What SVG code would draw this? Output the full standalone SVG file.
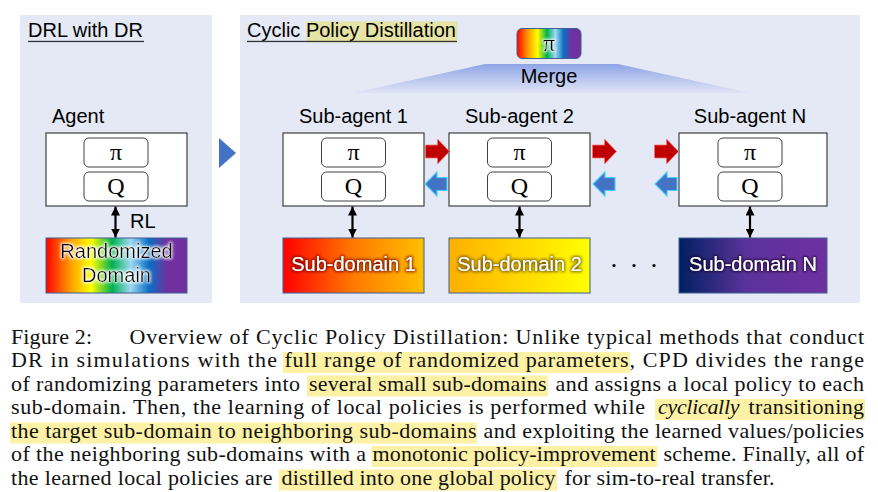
<svg xmlns="http://www.w3.org/2000/svg" width="878" height="492" viewBox="0 0 878 492">
<style>
.lbl{font-family:"Liberation Sans",Arial,sans-serif;font-size:20px;fill:#000}
.mid{text-anchor:middle}
.sym{font-family:"Liberation Serif","Times New Roman",serif;font-size:24px;fill:#000;text-anchor:middle}
.panel{fill:#e4e9f5}
.abox{fill:#fff;stroke:#404040;stroke-width:1.2}
.ibox{fill:#fff;stroke:#404040;stroke-width:1}
.dom{stroke:#3f5f95;stroke-width:1}
.dl{font-family:"Liberation Sans",Arial,sans-serif;font-size:20px;fill:#fff;text-anchor:middle}
.cap{font-family:"Liberation Serif","Times New Roman",serif;font-size:22px;fill:#111}
.hl{fill:#fdf1a6}
.conn{stroke:#000;stroke-width:2.2;fill:none}
.ra{fill:#c00000;stroke:#ff7070;stroke-width:1;stroke-opacity:0.7}
.la{fill:#4472c4;stroke:#3fd0ff;stroke-width:1.2;stroke-opacity:0.9}
</style>
<defs>
<linearGradient id="rainbow" x1="0" y1="0" x2="1" y2="0">
<stop offset="0" stop-color="#ff0000"/>
<stop offset="0.17" stop-color="#ff9a00"/>
<stop offset="0.32" stop-color="#ffff00"/>
<stop offset="0.47" stop-color="#00b050"/>
<stop offset="0.6" stop-color="#9cd9f2"/>
<stop offset="0.73" stop-color="#0a6fc2"/>
<stop offset="0.86" stop-color="#7030a0"/>
<stop offset="1" stop-color="#7030a0"/>
</linearGradient>
<linearGradient id="g1" x1="0" y1="0" x2="1" y2="0">
<stop offset="0" stop-color="#ff0000"/>
<stop offset="0.5" stop-color="#ff7a00"/>
<stop offset="1" stop-color="#ffc000"/>
</linearGradient>
<linearGradient id="g2" x1="0" y1="0" x2="1" y2="0">
<stop offset="0" stop-color="#ffb000"/>
<stop offset="1" stop-color="#ffff00"/>
</linearGradient>
<linearGradient id="gN" x1="0" y1="0" x2="1" y2="0">
<stop offset="0" stop-color="#002060"/>
<stop offset="0.45" stop-color="#5a329a"/>
<stop offset="1" stop-color="#7030a0"/>
</linearGradient>
<linearGradient id="trap" x1="0" y1="0" x2="0" y2="1">
<stop offset="0" stop-color="#8ea4e6"/>
<stop offset="1" stop-color="#dfe5f6"/>
</linearGradient>
<filter id="fw" x="-20%" y="-50%" width="140%" height="200%">
<feMorphology in="SourceAlpha" operator="dilate" radius="1.2" result="d"/>
<feGaussianBlur in="d" stdDeviation="1.4" result="b"/>
<feFlood flood-color="#ffffff" flood-opacity="0.95"/>
<feComposite in2="b" operator="in" result="g"/>
<feMerge><feMergeNode in="g"/><feMergeNode in="SourceGraphic"/></feMerge>
</filter>
<filter id="fr" x="-20%" y="-50%" width="140%" height="200%">
<feMorphology in="SourceAlpha" operator="dilate" radius="1.2" result="d"/>
<feGaussianBlur in="d" stdDeviation="1.4" result="b"/>
<feFlood flood-color="#7a0000" flood-opacity="0.85"/>
<feComposite in2="b" operator="in" result="g"/>
<feMerge><feMergeNode in="g"/><feMergeNode in="SourceGraphic"/></feMerge>
</filter>
<filter id="fb" x="-20%" y="-50%" width="140%" height="200%">
<feMorphology in="SourceAlpha" operator="dilate" radius="1.2" result="d"/>
<feGaussianBlur in="d" stdDeviation="1.4" result="b"/>
<feFlood flood-color="#6b5000" flood-opacity="0.85"/>
<feComposite in2="b" operator="in" result="g"/>
<feMerge><feMergeNode in="g"/><feMergeNode in="SourceGraphic"/></feMerge>
</filter>
<filter id="fd" x="-20%" y="-50%" width="140%" height="200%">
<feMorphology in="SourceAlpha" operator="dilate" radius="1" result="d"/>
<feGaussianBlur in="d" stdDeviation="1.3" result="b"/>
<feFlood flood-color="#1a0a30" flood-opacity="0.8"/>
<feComposite in2="b" operator="in" result="g"/>
<feMerge><feMergeNode in="g"/><feMergeNode in="SourceGraphic"/></feMerge>
</filter>
<marker id="ah" viewBox="0 0 10 10" refX="10" refY="5" markerUnits="userSpaceOnUse" markerWidth="9" markerHeight="9" orient="auto-start-reverse">
<path d="M0,0 L10,5 L0,10 z" fill="#000"/>
</marker>
<path id="rarrow" d="M0,-6.5 H12 V-12.5 L24,0 L12,12.5 V6.5 H0 Z"/>
<path id="larrow" d="M0,0 L12,-12 V-6.5 H22 V6.5 H12 V12 Z"/>
</defs>

<!-- panels -->
<g id="panel-left">
<rect class="panel" x="20" y="15" width="192" height="288"/>
<text class="lbl" x="28" y="37">DRL with DR</text>
<rect x="28" y="40.8" width="116" height="1.3" fill="#333"/>
</g>
<g id="panel-right">
<rect class="panel" x="240" y="15" width="620" height="288"/>
<rect x="306.5" y="21.5" width="151" height="21" fill="#e6e4a4"/>
<text class="lbl" x="247" y="37">Cyclic Policy Distillation</text>
<rect x="247" y="40.8" width="210" height="1.3" fill="#333"/>
</g>
<g id="transition-arrow">
<polygon points="219,138 236,153 219,168" fill="#4472c4"/>
</g>

<!-- merge -->
<g id="merge">
<polygon points="353,93 485,64 618,64 750,93" fill="url(#trap)"/>
<text class="lbl mid" x="549" y="83">Merge</text>
</g>
<g id="global-policy">
<rect x="517" y="28.5" width="64" height="30" rx="5" fill="url(#rainbow)" stroke="#3f5f95" stroke-width="1"/>
<text class="sym" x="549" y="51" filter="url(#fw)">π</text>
</g>

<!-- agent -->
<g id="agent">
<text class="lbl" x="52" y="123">Agent</text>
<rect class="abox" x="46" y="133" width="141" height="73"/>
<rect class="ibox" x="84" y="138" width="64" height="29" rx="5"/>
<text class="sym" x="116" y="160">π</text>
<rect class="ibox" x="84" y="172" width="64" height="29" rx="5"/>
<text class="sym" x="116" y="194">Q</text>
</g>
<g id="randomized-domain">
<rect class="dom" x="46" y="238" width="141" height="55" fill="url(#rainbow)"/>
<text class="lbl mid" x="116.5" y="258" filter="url(#fw)">Randomized</text>
<text class="lbl mid" x="116.5" y="282" filter="url(#fw)">Domain</text>
</g>

<!-- sub-agents -->
<g id="sub-agent-1">
<text class="lbl mid" x="353.5" y="123">Sub-agent 1</text>
<rect class="abox" x="283" y="133" width="141" height="73"/>
<rect class="ibox" x="321.5" y="138" width="64" height="29" rx="5"/>
<text class="sym" x="353.5" y="160">π</text>
<rect class="ibox" x="321.5" y="172" width="64" height="29" rx="5"/>
<text class="sym" x="353.5" y="194">Q</text>
</g>
<g id="sub-agent-2">
<text class="lbl mid" x="519.5" y="123">Sub-agent 2</text>
<rect class="abox" x="449" y="133" width="141" height="73"/>
<rect class="ibox" x="487.5" y="138" width="64" height="29" rx="5"/>
<text class="sym" x="519.5" y="160">π</text>
<rect class="ibox" x="487.5" y="172" width="64" height="29" rx="5"/>
<text class="sym" x="519.5" y="194">Q</text>
</g>
<g id="sub-agent-N">
<text class="lbl mid" x="750" y="123">Sub-agent N</text>
<rect class="abox" x="679" y="133" width="148" height="73"/>
<rect class="ibox" x="718" y="138" width="64" height="29" rx="5"/>
<text class="sym" x="750" y="160">π</text>
<rect class="ibox" x="718" y="172" width="64" height="29" rx="5"/>
<text class="sym" x="750" y="194">Q</text>
</g>

<!-- sub-domains -->
<g id="sub-domain-1">
<rect class="dom" x="283" y="238" width="141" height="55" fill="url(#g1)"/>
<text class="dl" x="353.5" y="271" filter="url(#fr)">Sub-domain 1</text>
</g>
<g id="sub-domain-2">
<rect class="dom" x="449" y="238" width="141" height="55" fill="url(#g2)"/>
<text class="dl" x="519.5" y="271" filter="url(#fb)">Sub-domain 2</text>
</g>
<g id="ellipsis">
<circle cx="614" cy="265.5" r="1.6" fill="#000"/>
<circle cx="634" cy="265.5" r="1.6" fill="#000"/>
<circle cx="654" cy="265.5" r="1.6" fill="#000"/>
</g>
<g id="sub-domain-N">
<rect class="dom" x="679" y="238" width="148" height="55" fill="url(#gN)"/>
<text class="dl" x="753" y="271" filter="url(#fd)">Sub-domain N</text>
</g>

<!-- connectors -->
<g id="connectors">
<line class="conn" x1="115.5" y1="206.5" x2="115.5" y2="237.5" marker-start="url(#ah)" marker-end="url(#ah)"/>
<text class="lbl" x="130" y="228">RL</text>
<line class="conn" x1="352.5" y1="206.5" x2="352.5" y2="237.5" marker-start="url(#ah)" marker-end="url(#ah)"/>
<line class="conn" x1="519.5" y1="206.5" x2="519.5" y2="237.5" marker-start="url(#ah)" marker-end="url(#ah)"/>
<line class="conn" x1="750" y1="206.5" x2="750" y2="237.5" marker-start="url(#ah)" marker-end="url(#ah)"/>
<use href="#rarrow" class="ra" x="425.5" y="151.5"/>
<use href="#rarrow" class="ra" x="592.5" y="151.5"/>
<use href="#rarrow" class="ra" x="654.5" y="151.5"/>
<use href="#larrow" class="la" x="425" y="184"/>
<use href="#larrow" class="la" x="593" y="184"/>
<use href="#larrow" class="la" x="655" y="184"/>
</g>

<!-- caption -->
<g id="caption">
<rect class="hl" x="283" y="352" width="347" height="21"/>
<rect class="hl" x="307" y="375.5" width="241" height="21"/>
<rect class="hl" x="655" y="399" width="210" height="21"/>
<rect class="hl" x="10" y="422.5" width="467" height="21"/>
<rect class="hl" x="371.5" y="446" width="286" height="21"/>
<rect class="hl" x="279" y="469.5" width="278" height="21"/>

<text class="cap" x="11" y="343.5" textLength="81" lengthAdjust="spacing">Figure 2:</text>
<text class="cap" x="129.5" y="343.5" textLength="734.5" lengthAdjust="spacing">Overview of Cyclic Policy Distillation: Unlike typical methods that conduct</text>

<text class="cap" x="11" y="367" textLength="266" lengthAdjust="spacing">DR in simulations with the</text>
<text class="cap" x="284.5" y="367" textLength="344" lengthAdjust="spacing">full range of randomized parameters</text>
<text class="cap" x="629.5" y="367" textLength="234.5" lengthAdjust="spacing">, CPD divides the range</text>

<text class="cap" x="11" y="390.5" textLength="289" lengthAdjust="spacing">of randomizing parameters into</text>
<text class="cap" x="309" y="390.5" textLength="237.5" lengthAdjust="spacing">several small sub-domains</text>
<text class="cap" x="555.5" y="390.5" textLength="308.5" lengthAdjust="spacing">and assigns a local policy to each</text>

<text class="cap" x="11" y="414" textLength="634" lengthAdjust="spacing">sub-domain. Then, the learning of local policies is performed while</text>
<text class="cap" x="658" y="414" textLength="81.5" lengthAdjust="spacing" font-style="italic">cyclically</text>
<text class="cap" x="748.5" y="414" textLength="115.5" lengthAdjust="spacing">transitioning</text>

<text class="cap" x="11" y="437.5" textLength="465.5" lengthAdjust="spacing">the target sub-domain to neighboring sub-domains</text>
<text class="cap" x="483.5" y="437.5" textLength="380.5" lengthAdjust="spacing">and exploiting the learned values/policies</text>

<text class="cap" x="11" y="461" textLength="355" lengthAdjust="spacing">of the neighboring sub-domains with a</text>
<text class="cap" x="372.5" y="461" textLength="283" lengthAdjust="spacing">monotonic policy-improvement</text>
<text class="cap" x="663.5" y="461" textLength="200.5" lengthAdjust="spacing">scheme. Finally, all of</text>

<text class="cap" x="11" y="484.5" textLength="261.5" lengthAdjust="spacing">the learned local policies are</text>
<text class="cap" x="281.5" y="484.5" textLength="274" lengthAdjust="spacing">distilled into one global policy</text>
<text class="cap" x="564.5" y="484.5" textLength="210" lengthAdjust="spacing">for sim-to-real transfer.</text>
</g>
</svg>
